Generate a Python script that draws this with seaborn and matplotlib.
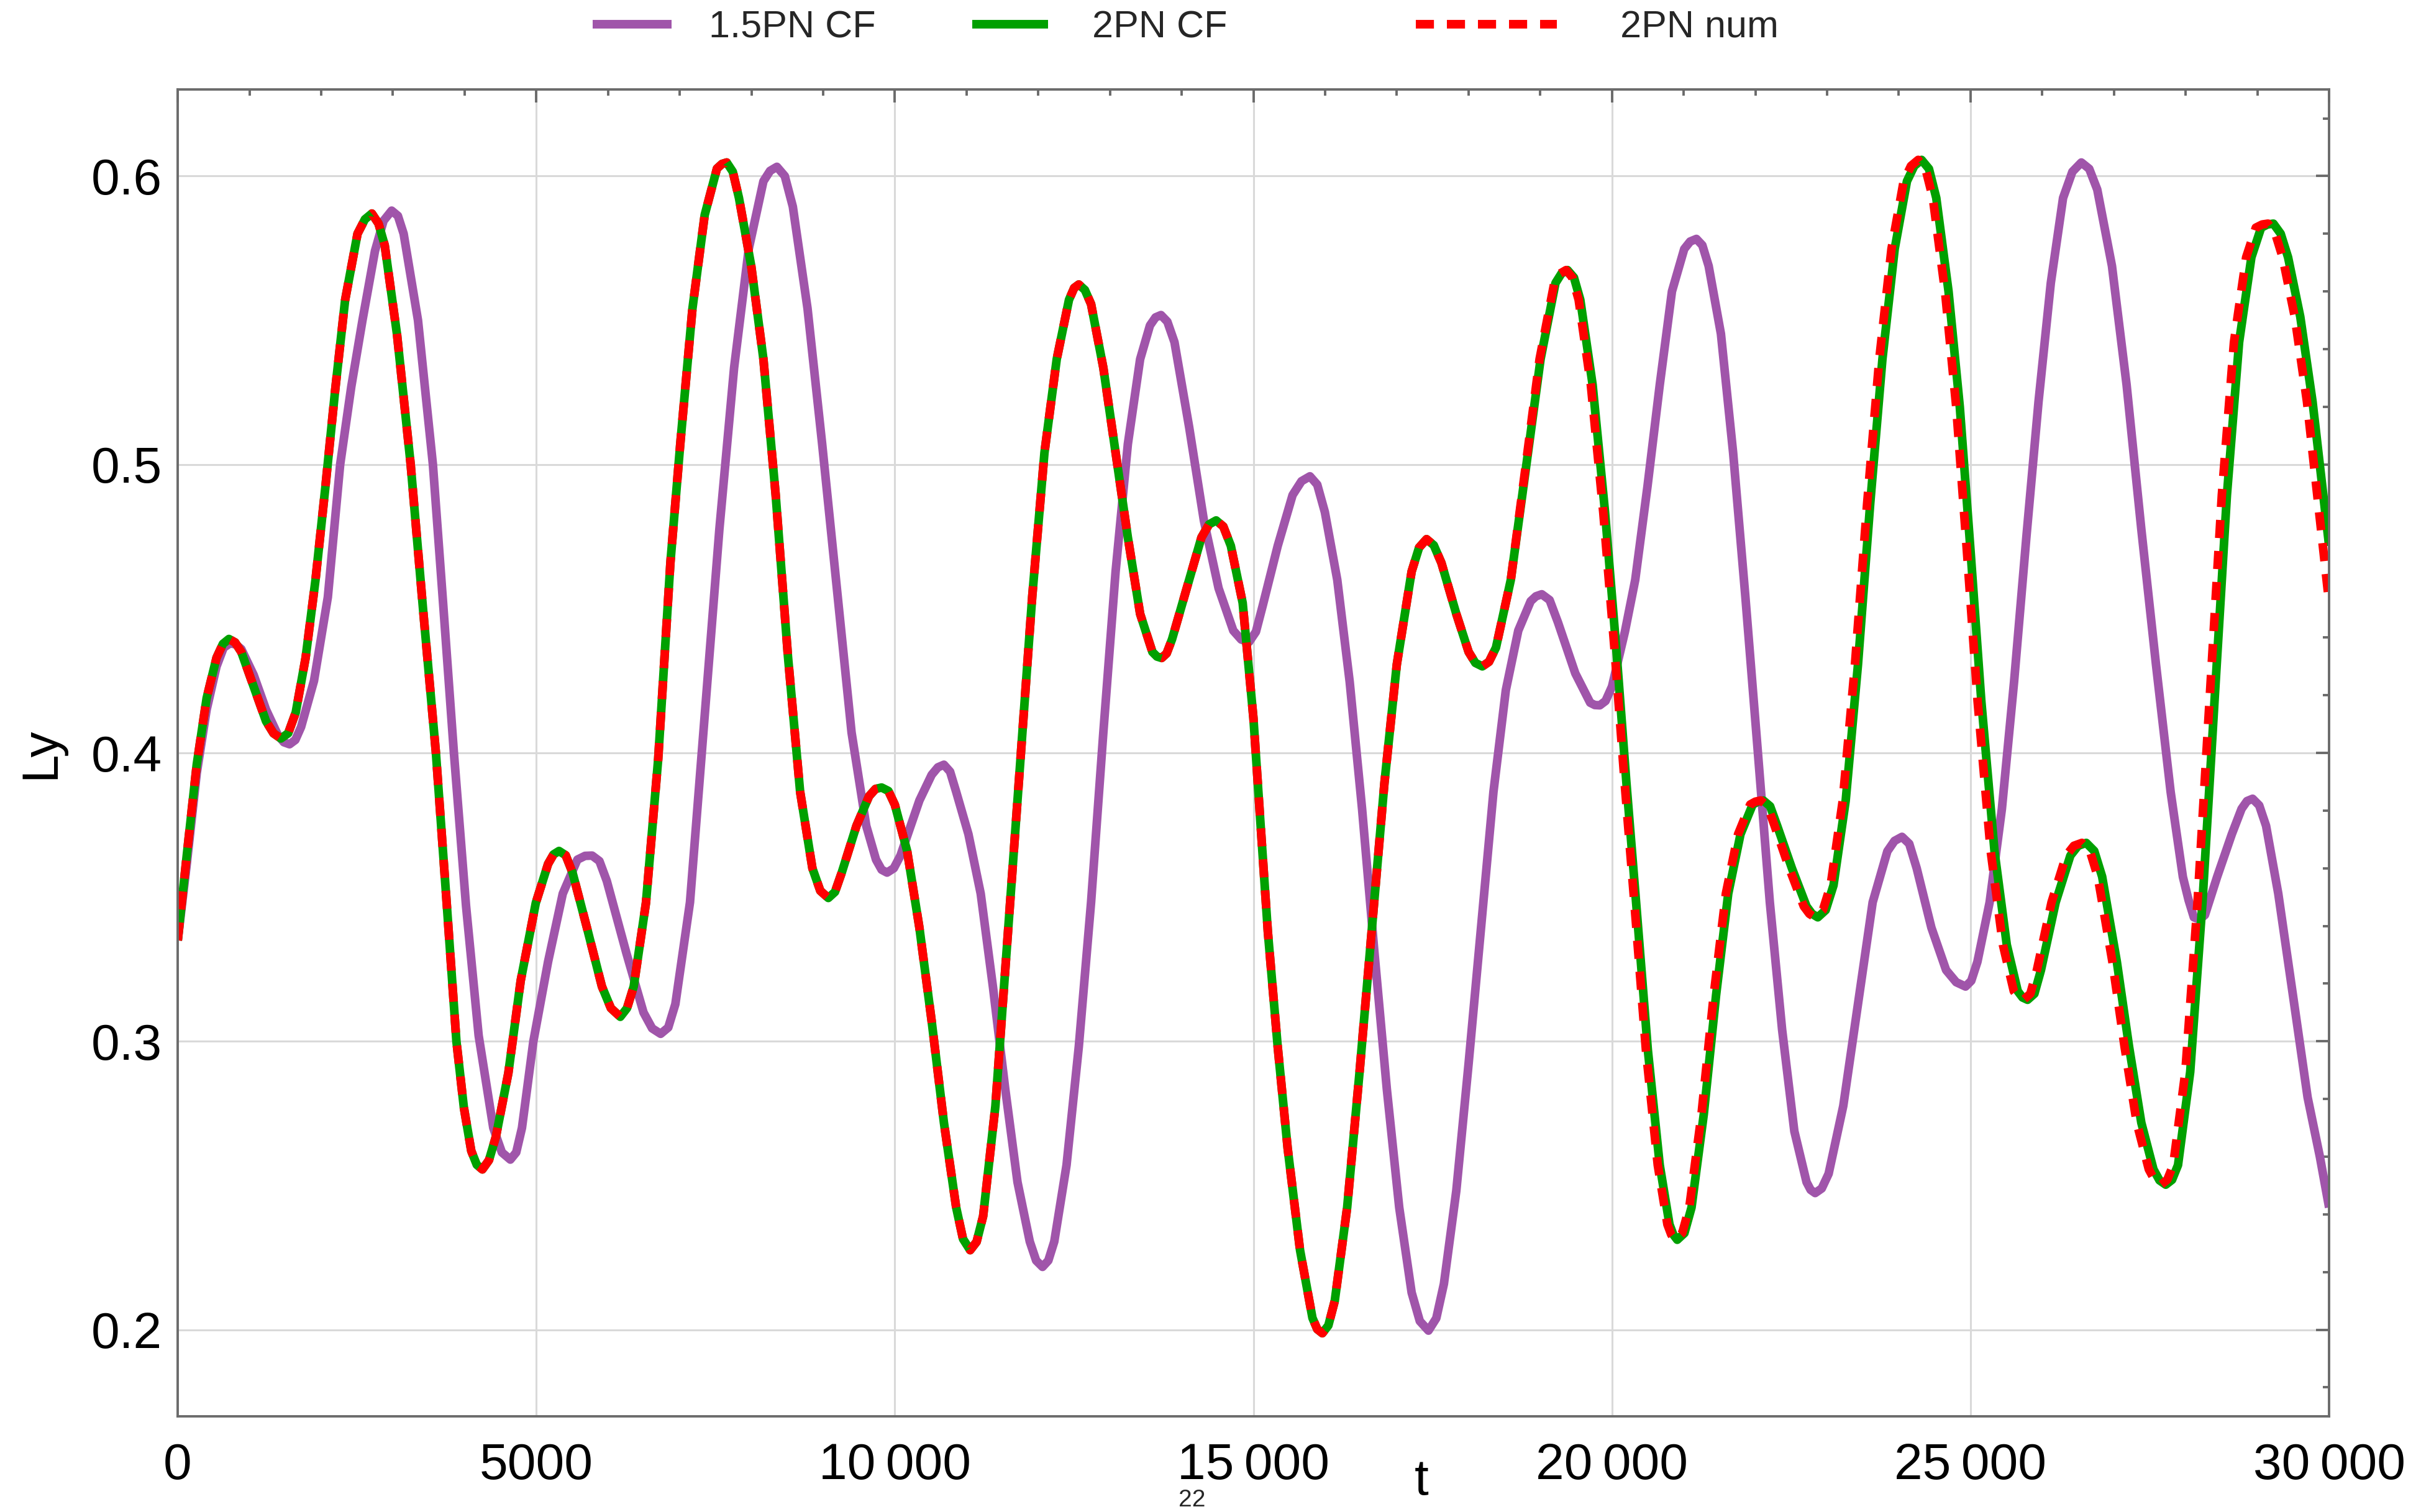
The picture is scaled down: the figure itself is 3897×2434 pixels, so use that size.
import matplotlib
matplotlib.use("Agg")
import matplotlib.pyplot as plt
import pandas as pd
import seaborn as sns
from matplotlib.ticker import FixedLocator, FixedFormatter, MultipleLocator

# ---------------- data ----------------
# 1.5PN closed form
t_15pn = [0, 128, 265, 403, 541, 731, 886, 1059, 1231, 1400, 1559, 1720, 1900, 2093, 2265, 2420,
          2576, 2750, 2983, 3150, 3350, 3558, 3700, 3851, 4020, 4196, 4400, 4638, 4800, 4959,
          5164, 5369, 5573, 5778, 5983, 6256, 6495, 6734, 6939, 7143, 7348, 7553, 7758, 7962,
          8167, 8355, 8577, 8782, 8986, 9191, 9396, 9601, 9737, 9891, 10078, 10342, 10513,
          10684, 10855, 11026, 11197, 11368, 11539, 11710, 11881, 12059, 12223, 12394, 12565,
          12736, 12907, 13078, 13249, 13420, 13557, 13711, 13899, 14104, 14309, 14514, 14719,
          14940, 15131, 15339, 15546, 15788, 15996, 16169, 16342, 16515, 16688, 16860, 17033,
          17206, 17441, 17656, 17829, 18001, 18174, 18347, 18520, 18693, 18866, 19021, 19246,
          19488, 19696, 19830, 20000, 20180, 20324, 20495, 20666, 20836, 21007, 21177, 21348,
          21519, 21689, 21860, 22031, 22201, 22372, 22543, 22713, 22833, 23021, 23225, 23430,
          23635, 23840, 24044, 24249, 24454, 24659, 24930, 25096, 25266, 25437, 25607, 25778,
          25948, 26119, 26290, 26545, 26767, 26972, 27176, 27381, 27586, 27790, 27961, 28114,
          28268, 28438, 28643, 28779, 28933, 29121, 29291, 29496, 29700, 29871, 30000]
ly_15pn = [0.335, 0.362, 0.393, 0.415, 0.430, 0.438, 0.436, 0.427, 0.415, 0.406, 0.403, 0.409,
           0.425, 0.454, 0.500, 0.527, 0.550, 0.574, 0.588, 0.580, 0.550, 0.500, 0.452, 0.400,
           0.347, 0.302, 0.270, 0.259, 0.270, 0.300, 0.3276, 0.3512, 0.363, 0.3644, 0.3556,
           0.3306, 0.310, 0.3026, 0.3129, 0.3482, 0.4129, 0.4776, 0.5335, 0.5747, 0.5982,
           0.6032, 0.5894, 0.5541, 0.5071, 0.4571, 0.4071, 0.3747, 0.363, 0.3585, 0.3644,
           0.3835, 0.3924, 0.3959, 0.3865, 0.3718, 0.3512, 0.3188, 0.2835, 0.2512, 0.2306,
           0.2218, 0.2306, 0.2571, 0.2982, 0.3482, 0.4071, 0.4629, 0.5071, 0.5365, 0.5482,
           0.5518, 0.5424, 0.5129, 0.4806, 0.4571, 0.4424, 0.4385, 0.4512, 0.4718, 0.4894,
           0.4959, 0.4835, 0.460, 0.4247, 0.3806, 0.3306, 0.2835, 0.2424, 0.2129, 0.1997,
           0.2159, 0.2482, 0.2924, 0.3394, 0.3865, 0.4218, 0.4424, 0.4526, 0.455, 0.4453,
           0.4276, 0.4174, 0.4165, 0.423, 0.442, 0.460, 0.4924, 0.5276, 0.560, 0.5747, 0.5782,
           0.5688, 0.5453, 0.5041, 0.4541, 0.4012, 0.3482, 0.3041, 0.2688, 0.2512, 0.2474,
           0.2541, 0.2776, 0.3129, 0.3482, 0.3659, 0.3709, 0.360, 0.3394, 0.3247, 0.3190,
           0.3276, 0.3482, 0.3806, 0.4247, 0.4747, 0.5218, 0.5629, 0.5924, 0.6047, 0.5953,
           0.5688, 0.5276, 0.4776, 0.4306, 0.3865, 0.357, 0.343, 0.3438, 0.357, 0.3718,
           0.3806, 0.3841, 0.3747, 0.3512, 0.3159, 0.2806, 0.260, 0.2424]
# extra readings of the 1.5PN curve around its turning points
t_15pn_turn = [640, 810, 1480, 1640, 2870, 3070, 4520, 4720, 5680, 5880, 6615, 6840, 8260, 8465,
               9815, 9985, 10600, 10770, 11970, 12140, 13635, 13800, 14830, 15035, 15670, 15890,
               17320, 17550, 18940, 19130, 19760, 19910, 21090, 21260, 22770, 22925, 23940,
               24145, 24800, 25010, 26420, 26655, 28040, 28190, 28855, 29025]
ly_15pn_turn = [0.4365, 0.4376, 0.4037, 0.4045, 0.5845, 0.5862, 0.2615, 0.2615, 0.3643, 0.3625,
                0.3045, 0.3048, 0.6018, 0.6000, 0.3595, 0.3600, 0.3950, 0.3935, 0.2240, 0.2240,
                0.5510, 0.5495, 0.4393, 0.4420, 0.4942, 0.4930, 0.2030, 0.2040, 0.4543, 0.4530,
                0.4166, 0.4180, 0.5773, 0.5760, 0.2485, 0.2490, 0.3695, 0.3685, 0.3205, 0.3210,
                0.6015, 0.6025, 0.3490, 0.3422, 0.3833, 0.3818]

# 2PN closed form
t_2pn = [0, 128, 265, 403, 541, 714, 886, 1059, 1231, 1438, 1645, 1783, 1921, 2058, 2196, 2334,
         2507, 2707, 2886, 3058, 3248, 3420, 3600, 3750, 3886, 4093, 4248, 4437, 4610, 4782,
         4993, 5164, 5317, 5505, 5710, 5915, 6171, 6358, 6529, 6700, 6870, 7007, 7177, 7348,
         7519, 7655, 7826, 7997, 8167, 8338, 8509, 8679, 8850, 9072, 9259, 9464, 9640, 9815,
         10000, 10171, 10342, 10513, 10684, 10855, 11050, 11231, 11402, 11573, 11744, 11915,
         12086, 12257, 12428, 12565, 12736, 12907, 13078, 13249, 13420, 13591, 13720, 13865,
         14070, 14275, 14480, 14685, 14850, 15000, 15100, 15201, 15339, 15477, 15650, 15823,
         15961, 16134, 16307, 16480, 16653, 16826, 16999, 17206, 17414, 17621, 17829, 18001,
         18192, 18382, 18589, 18797, 19004, 19212, 19380, 19558, 19730, 19903, 20060, 20200,
         20340, 20500, 20666, 20802, 20910, 21109, 21280, 21451, 21621, 21792, 21962, 22110,
         22304, 22509, 22713, 22870, 23089, 23259, 23430, 23601, 23771, 23942, 24113, 24317,
         24522, 24693, 24850, 25000, 25150, 25334, 25505, 25658, 25795, 25982, 26187, 26392,
         26613, 26835, 27040, 27210, 27381, 27551, 27722, 27893, 28063, 28234, 28404, 28575,
         28745, 28916, 29052, 29223, 29428, 29598, 29769, 30000]
ly_2pn = [0.335, 0.365, 0.396, 0.419, 0.433, 0.4395, 0.435, 0.423, 0.411, 0.405, 0.414, 0.433,
          0.460, 0.492, 0.526, 0.557, 0.580, 0.587, 0.576, 0.545, 0.500, 0.450, 0.400, 0.348,
          0.300, 0.262, 0.2556, 0.267, 0.289, 0.321, 0.348, 0.3615, 0.366, 0.3585, 0.339,
          0.319, 0.3085, 0.319, 0.348, 0.398, 0.466, 0.507, 0.554, 0.5865, 0.6026, 0.6047,
          0.5924, 0.5688, 0.5365, 0.4894, 0.4335, 0.3865, 0.360, 0.3497, 0.3585, 0.3747,
          0.385, 0.388, 0.382, 0.366, 0.3394, 0.307, 0.2718, 0.2424, 0.2276, 0.2394, 0.2776,
          0.3365, 0.3953, 0.4541, 0.5041, 0.5365, 0.5571, 0.5624, 0.5556, 0.5335, 0.5041,
          0.4747, 0.4482, 0.435, 0.4329, 0.4394, 0.4571, 0.4747, 0.4806, 0.4718, 0.452, 0.412,
          0.375, 0.338, 0.298, 0.263, 0.2276, 0.2041, 0.1988, 0.210, 0.2424, 0.2894, 0.3394,
          0.3894, 0.4306, 0.4629, 0.4741, 0.4659, 0.4482, 0.435, 0.430, 0.4365, 0.460, 0.4982,
          0.5365, 0.5629, 0.5674, 0.5571, 0.5276, 0.4835, 0.436, 0.390, 0.347, 0.297, 0.2571,
          0.2365, 0.2312, 0.2424, 0.2747, 0.3159, 0.3512, 0.3718, 0.3821, 0.3835, 0.3747,
          0.360, 0.3468, 0.343, 0.3541, 0.3835, 0.4306, 0.4865, 0.5365, 0.5747, 0.5982,
          0.6056, 0.5924, 0.560, 0.520, 0.470, 0.418, 0.3659, 0.3335, 0.3174, 0.3144, 0.3247,
          0.3482, 0.3644, 0.3688, 0.3571, 0.3276, 0.2982, 0.2718, 0.2556, 0.2503, 0.2571,
          0.2894, 0.3482, 0.4188, 0.4894, 0.5424, 0.5718, 0.5821, 0.5835, 0.5718, 0.5512,
          0.5218, 0.4718]
t_2pn_turn = [630, 800, 1335, 1540, 2610, 2800, 3990, 4170, 4340, 5240, 5410, 6040, 6265, 7590,
              7740, 8960, 9165, 9730, 9910, 10950, 11140, 12500, 12650, 13655, 13790, 14380,
              14580, 15890, 16045, 17310, 17515, 18095, 18285, 19295, 19470, 20855, 21010,
              22035, 22205, 22790, 22980, 24215, 24420, 25725, 25890, 26500, 26725, 27635,
              27810, 29140, 29325]
ly_2pn_turn = [0.4378, 0.4383, 0.4068, 0.4068, 0.5850, 0.5835, 0.2770, 0.2572, 0.2588, 0.3648,
               0.3645, 0.3115, 0.3115, 0.6042, 0.6015, 0.3522, 0.3518, 0.3875, 0.3868, 0.2315,
               0.2305, 0.5612, 0.5605, 0.4334, 0.4345, 0.4792, 0.4785, 0.2002, 0.2015, 0.4712,
               0.4720, 0.4312, 0.4316, 0.5662, 0.5648, 0.2330, 0.2335, 0.3831, 0.3815, 0.3442,
               0.3455, 0.6035, 0.6025, 0.3152, 0.3165, 0.3678, 0.3660, 0.2518, 0.2520, 0.5832,
               0.5800]

# 2PN numerical solution
t_num = [0, 128, 265, 403, 541, 714, 886, 1059, 1231, 1438, 1645, 1783, 1921, 2058, 2196, 2334,
         2507, 2707, 2886, 3058, 3248, 3420, 3600, 3750, 3886, 4093, 4248, 4437, 4610, 4782,
         4993, 5164, 5317, 5505, 5710, 5915, 6171, 6358, 6529, 6700, 6870, 7007, 7177, 7348,
         7519, 7655, 7826, 7997, 8167, 8338, 8509, 8679, 8850, 9072, 9259, 9464, 9640, 9815,
         10000, 10171, 10342, 10513, 10684, 10855, 11050, 11231, 11402, 11573, 11744, 11915,
         12086, 12257, 12428, 12565, 12736, 12907, 13078, 13249, 13420, 13591, 13720, 13865,
         14070, 14275, 14480, 14685, 14850, 15000, 15100, 15201, 15339, 15477, 15650, 15823,
         15961, 16134, 16307, 16480, 16653, 16826, 16999, 17206, 17414, 17621, 17829, 18001,
         18192, 18382, 18589, 18790, 18990, 19195, 19360, 19535, 19705, 19878, 20035, 20175,
         20315, 20473, 20638, 20773, 20880, 21078, 21248, 21418, 21588, 21758, 21927, 22075,
         22268, 22472, 22675, 22831, 23049, 23218, 23388, 23558, 23727, 23897, 24067, 24270,
         24474, 24644, 24800, 24949, 25098, 25281, 25451, 25603, 25739, 25925, 26129, 26333,
         26553, 26774, 26978, 27147, 27317, 27486, 27656, 27826, 27995, 28165, 28334, 28504,
         28673, 28843, 28978, 29148, 29352, 29521, 29691, 30000]
ly_num = [0.335, 0.365, 0.396, 0.419, 0.433, 0.4395, 0.435, 0.423, 0.411, 0.405, 0.414, 0.433,
          0.460, 0.492, 0.526, 0.557, 0.580, 0.587, 0.576, 0.545, 0.500, 0.450, 0.400, 0.348,
          0.300, 0.262, 0.2556, 0.267, 0.289, 0.321, 0.348, 0.3615, 0.366, 0.3585, 0.339,
          0.319, 0.3085, 0.319, 0.348, 0.398, 0.466, 0.507, 0.554, 0.5865, 0.6026, 0.6047,
          0.5924, 0.5688, 0.5365, 0.4894, 0.4335, 0.3865, 0.360, 0.3497, 0.3585, 0.3747,
          0.385, 0.388, 0.382, 0.366, 0.3394, 0.307, 0.2718, 0.2424, 0.2276, 0.2394, 0.2776,
          0.3365, 0.3953, 0.4541, 0.5041, 0.5365, 0.5571, 0.5624, 0.5556, 0.5335, 0.5041,
          0.4747, 0.4482, 0.435, 0.4329, 0.4394, 0.4571, 0.4747, 0.4806, 0.4718, 0.452, 0.412,
          0.375, 0.338, 0.298, 0.263, 0.2276, 0.2041, 0.1988, 0.210, 0.2424, 0.2894, 0.3394,
          0.3894, 0.4306, 0.4629, 0.4741, 0.4659, 0.4482, 0.435, 0.430, 0.4365, 0.460, 0.4982,
          0.5365, 0.5629, 0.5674, 0.5571, 0.5276, 0.4835, 0.436, 0.390, 0.347, 0.297, 0.2571,
          0.2365, 0.2312, 0.2424, 0.2747, 0.3159, 0.3512, 0.3718, 0.3821, 0.3835, 0.3747,
          0.360, 0.3468, 0.343, 0.3541, 0.3835, 0.4306, 0.4865, 0.5365, 0.5747, 0.5982,
          0.6056, 0.5924, 0.560, 0.520, 0.470, 0.418, 0.3659, 0.3335, 0.3174, 0.3144, 0.3247,
          0.3482, 0.3644, 0.3688, 0.3571, 0.3276, 0.2982, 0.2718, 0.2556, 0.2503, 0.2571,
          0.2894, 0.3482, 0.4188, 0.4894, 0.5424, 0.5718, 0.5821, 0.5835, 0.5718, 0.5512,
          0.5218, 0.452]
t_num_turn = [630, 800, 1335, 1540, 2610, 2800, 3990, 4170, 4340, 5240, 5410, 6040, 6265, 7590,
              7740, 8960, 9165, 9730, 9910, 10950, 11140, 12500, 12650, 13655, 13790, 14380,
              14580, 15890, 16045, 17310, 17515, 18095, 18285, 19277, 19448, 20826, 20979,
              22000, 22170, 22753, 22941, 24169, 24372, 25670, 25834, 26441, 26664, 27569,
              27743, 29066, 29250]
ly_num_turn = ly_2pn_turn

series_names = ["1.5PN CF", "2PN CF", "2PN num"]
series_colors = ["#A055AA", "#00A000", "#FF0000"]

x_ticks = [0, 5000, 10000, 15000, 20000, 25000, 30000]
x_ticklabels = ["0", "5000", "10\u2009000", "15\u2009000", "20\u2009000", "25\u2009000", "30\u2009000"]
y_ticks = [0.2, 0.3, 0.4, 0.5, 0.6]
y_ticklabels = ["0.2", "0.3", "0.4", "0.5", "0.6"]

# ---------------- figure ----------------
sns.set_theme(style="white")
plt.rcParams["font.family"] = ["Liberation Sans", "DejaVu Sans"]

fig = plt.figure(figsize=(19.49, 12.17), dpi=200)
fig.patch.set_facecolor("white")
ax = fig.add_axes([0.0734, 0.0633, 0.8884, 0.8775])
ax.set_facecolor("white")


def make_frame(t_main, y_main, t_turn, y_turn):
    df = pd.concat([pd.DataFrame({"t": t_main, "Ly": y_main}),
                    pd.DataFrame({"t": t_turn, "Ly": y_turn})], ignore_index=True)
    return df.sort_values("t").reset_index(drop=True)


frames = [
    make_frame(t_15pn, ly_15pn, t_15pn_turn, ly_15pn_turn),
    make_frame(t_2pn, ly_2pn, t_2pn_turn, ly_2pn_turn),
    make_frame(t_num, ly_num, t_num_turn, ly_num_turn),
]
lw = 5.0
for df, name, col in zip(frames, series_names, series_colors):
    sns.lineplot(data=df, x="t", y="Ly", ax=ax, color=col, linewidth=lw,
                 estimator=None, sort=True, label=name, legend=False)
lines = ax.get_lines()
for ln in lines:
    ln.set_solid_joinstyle("round")
    ln.set_solid_capstyle("butt")
lines[2].set_dashes((2.1, 1.5))
lines[2].set_dash_capstyle("butt")
lines[2].set_dash_joinstyle("round")

ax.set_xlim(0, 30000)
ax.set_ylim(0.17, 0.63)

ax.xaxis.set_major_locator(FixedLocator(x_ticks))
ax.xaxis.set_major_formatter(FixedFormatter(x_ticklabels))
ax.yaxis.set_major_locator(FixedLocator(y_ticks))
ax.yaxis.set_major_formatter(FixedFormatter(y_ticklabels))
ax.xaxis.set_minor_locator(MultipleLocator(1000))
ax.yaxis.set_minor_locator(MultipleLocator(0.02))

spine_col = "#6b6b6b"
ax.tick_params(which="both", direction="in", top=True, right=True,
               color=spine_col, width=1.4)
ax.tick_params(which="major", length=7.5, labelsize=29.5, labelcolor="black")
ax.tick_params(which="minor", length=3.6)
ax.tick_params(axis="x", which="major", pad=15)
ax.tick_params(axis="y", which="major", pad=9)

ax.grid(True, which="major", color="#d9d9d9", linewidth=1.1)
ax.set_axisbelow(True)
for sp in ax.spines.values():
    sp.set_visible(True)
    sp.set_color(spine_col)
    sp.set_linewidth(1.4)

ax.set_xlabel("t", fontsize=29.5, color="black")
ax.xaxis.set_label_coords(0.578, -0.0314)
ax.set_ylabel("Ly", fontsize=29.5, color="black")
ax.yaxis.set_label_coords(-0.0526, 0.5)

# legend above the plot, one entry per series
legend_x = [0.2447, 0.4015, 0.5847]
handle_len = [2.08, 2.0, 3.72]
text_pad = [0.98, 1.15, 1.66]
for ln, name, x, hl, tp in zip(lines, series_names, legend_x, handle_len, text_pad):
    fig.legend([ln], [name], loc="center left", bbox_to_anchor=(x, 0.9815),
               frameon=False, fontsize=22, handlelength=hl, handletextpad=tp,
               borderpad=0, borderaxespad=0)

fig.text(1919 / 3898, 1 - 2425 / 2434, "22", fontsize=14, ha="center", va="baseline")

fig.savefig("out.png", dpi=200, facecolor="white")
